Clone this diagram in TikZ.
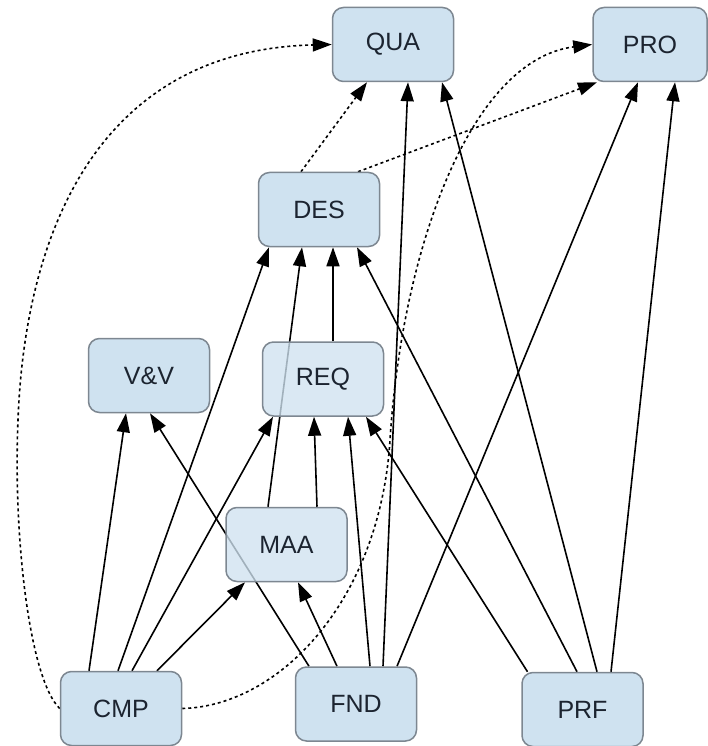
\documentclass[tikz,border=0pt]{standalone}
\usepackage{fontspec}
\setmainfont{Liberation Sans}
\usetikzlibrary{arrows.meta,backgrounds}
\definecolor{boxfill}{RGB}{207,226,240}
\definecolor{boxline}{RGB}{125,135,145}
\definecolor{txt}{RGB}{28,36,48}
\begin{document}
\begin{tikzpicture}[x=1pt,y=-1pt,
  box/.style={draw=boxline,line width=1.5pt,fill=boxfill,rounded corners=11pt,
    minimum width=121pt,minimum height=74pt,inner sep=0pt,text=txt,
    font=\fontsize{25}{30}\selectfont},
  see/.style={box,fill opacity=0.78,text opacity=1},
  arr/.style={line width=1.6pt,-{Triangle[length=19pt,width=13pt]}},
  dot/.style={arr,dash pattern=on 3pt off 3pt}]
\useasboundingbox (0,0) rectangle (707,746);
\node[box] (QUA) at (393,44.5) {QUA};
\node[box,minimum width=114pt] (PRO) at (650,44.5) {PRO};
\node[box] (DES) at (319,209.5) {DES};
\node[box] (VV) at (149,375.5) {V\&V};
\node[see] (REQ) at (323,379) {REQ};
\node[see] (MAA) at (286.5,544.5) {MAA};
\node[box] (CMP) at (121,708.5) {CMP};
\node[box] (FND) at (356,704) {FND};
\node[box] (PRF) at (582.5,709.5) {PRF};
\coordinate (cl) at (18,420);
\coordinate (cr) at (390,440);
\begin{pgfonlayer}{background}
% CMP
\draw[arr] ([xshift=-32pt]CMP.north) -- ([xshift=-23pt]VV.south);
\draw[arr] ([xshift=-3pt]CMP.north) -- ([xshift=-50pt]DES.south);
\draw[arr] ([xshift=11pt]CMP.north) -- ([xshift=-50pt]REQ.south);
\draw[arr] ([xshift=36pt]CMP.north) -- ([xshift=-41.5pt]MAA.south);
% FND
\draw[arr] ([xshift=-47pt]FND.north) -- ([xshift=1pt]VV.south);
\draw[arr] ([xshift=-19pt]FND.north) -- ([xshift=11.5pt]MAA.south);
\draw[arr] ([xshift=14pt]FND.north) -- ([xshift=25pt]REQ.south);
\draw[arr] ([xshift=27pt]FND.north) -- ([xshift=15pt]QUA.south);
\draw[arr] ([xshift=41pt]FND.north) -- ([xshift=-12pt]PRO.south);
% MAA
\draw[arr] ([xshift=-18.5pt]MAA.north) -- ([xshift=-17pt]DES.south);
\draw[arr] ([xshift=30.5pt]MAA.north) -- ([xshift=-9pt]REQ.south);
% REQ
\draw[arr] ([xshift=10pt]REQ.north) -- ([xshift=14pt]DES.south);
% PRF
\draw[arr] ([xshift=-55pt]PRF.north) -- ([xshift=43pt]REQ.south);
\draw[arr] ([xshift=-5.5pt]PRF.north) -- ([xshift=38pt]DES.south);
\draw[arr] ([xshift=14.5pt]PRF.north) -- ([xshift=49pt]QUA.south);
\draw[arr] ([xshift=28.5pt]PRF.north) -- ([xshift=25pt]PRO.south);
% dotted
\draw[dot] ([xshift=-18pt]DES.north) -- ([xshift=-26pt]QUA.south);
\draw[dot] ([xshift=39pt]DES.north) -- ([xshift=-53pt]PRO.south);
\draw[dot] (CMP.west) .. controls (30,680) and (13,540) .. (cl)
  .. controls (25,230) and (100,50) .. (QUA.west);
\draw[dot] (CMP.east) .. controls (280,706) and (380,600) .. (cr)
  .. controls (402,250) and (470,60) .. (PRO.west);
\end{pgfonlayer}
\end{tikzpicture}
\end{document}
